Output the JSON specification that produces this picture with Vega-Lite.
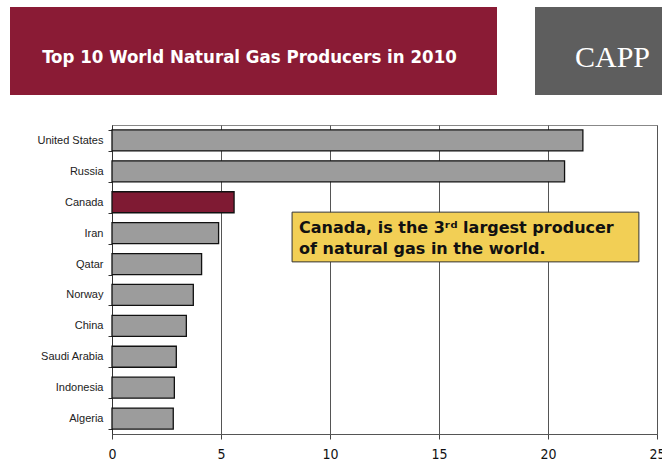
{
  "$schema": "https://vega.github.io/schema/vega-lite/v6.json",
  "padding": {"left": 10, "top": 7, "right": 0, "bottom": 0},
  "background": "white",
  "config": {"view": {"stroke": null}, "font": "Liberation Sans"},
  "spacing": 23,
  "vconcat": [
    {
      "hconcat": [
        {
          "width": 487,
          "height": 88,
          "view": {"fill": "#8a1b35", "stroke": null},
          "data": {"values": [{"t": "Top 10 World Natural Gas Producers in 2010"}]},
          "mark": {"type": "text", "color": "white", "font": "DejaVu Sans Condensed", "fontWeight": "bold", "fontSize": 18.5, "align": "center", "baseline": "middle", "dx": -4, "dy": 6},
          "encoding": {"text": {"field": "t"}}
        },
        {
          "width": 127,
          "height": 88,
          "view": {"fill": "#5e5e5e", "stroke": null},
          "data": {"values": [{"t": "CAPP"}]},
          "mark": {"type": "text", "color": "white", "font": "Liberation Serif", "fontSize": 30, "align": "center", "baseline": "middle", "dx": 14, "dy": 7},
          "encoding": {"text": {"field": "t"}}
        }
      ],
      "spacing": 38
    },
    {
      "bounds": "flush",
      "spacing": 101,
      "hconcat": [
        {
          "width": 1,
          "height": 309,
          "data": {"values": []},
          "mark": {"type": "point", "opacity": 0},
          "encoding": {}
        },
        {
          "width": 545,
          "height": 309,
          "view": {"stroke": "#888888", "strokeWidth": 1},
          "data": {"values": [
            {"country": "United States", "value": 21.6},
            {"country": "Russia", "value": 20.76},
            {"country": "Canada", "value": 5.6},
            {"country": "Iran", "value": 4.89},
            {"country": "Qatar", "value": 4.11},
            {"country": "Norway", "value": 3.73},
            {"country": "China", "value": 3.41},
            {"country": "Saudi Arabia", "value": 2.95},
            {"country": "Indonesia", "value": 2.86},
            {"country": "Algeria", "value": 2.81}
          ]},
          "layer": [
            {
              "mark": {"type": "bar", "stroke": "#111111", "strokeWidth": 1.3},
              "encoding": {
                "y": {
                  "field": "country", "type": "nominal", "sort": null,
                  "scale": {"paddingInner": 0.32, "paddingOuter": 0.16},
                  "axis": {"title": null, "tickBand": "extent", "tickSize": 4, "tickColor": "#333", "domainColor": "#333", "labelPadding": 5, "labelFont": "Liberation Sans", "labelFontSize": 11, "labelColor": "#222", "grid": false}
                },
                "x": {
                  "field": "value", "type": "quantitative",
                  "scale": {"domain": [0, 25], "nice": false},
                  "axis": {"title": null, "values": [0, 5, 10, 15, 20, 25], "grid": true, "gridColor": "#555555", "gridOpacity": 1, "gridWidth": 1, "tickSize": 5, "tickColor": "#444", "domainColor": "#555", "labelFont": "DejaVu Sans Condensed", "labelFontSize": 14, "labelColor": "#111", "labelPadding": 8, "labelBaseline": "top", "labelFlush": false, "labelOverlap": false}
                },
                "color": {"condition": {"test": "datum.country === 'Canada'", "value": "#7f1a33"}, "value": "#9c9c9c"}
              }
            },
            {
              "data": {"values": [{}]},
              "mark": {"type": "rect", "fill": "#f2cf55", "stroke": "#333333", "strokeWidth": 1},
              "encoding": {
                "x": {"datum": 8.26, "type": "quantitative"},
                "x2": {"datum": 24.17},
                "y": {"datum": 2.82, "type": "quantitative", "scale": {"domain": [0, 10], "reverse": true, "nice": false, "zero": false}, "axis": null},
                "y2": {"datum": 4.43}
              }
            },
            {
              "data": {"values": [{"t": ["Canada, is the 3ʳᵈ largest producer", "of natural gas in the world."]}]},
              "mark": {"type": "text", "font": "DejaVu Sans", "fontWeight": "bold", "fontSize": 16, "align": "left", "baseline": "alphabetic", "lineHeight": 21, "color": "#111"},
              "encoding": {
                "text": {"field": "t"},
                "x": {"datum": 8.58, "type": "quantitative"},
                "y": {"datum": 3.5, "type": "quantitative", "scale": {"domain": [0, 10], "reverse": true, "nice": false, "zero": false}, "axis": null}
              }
            }
          ],
          "resolve": {"scale": {"y": "independent"}}
        }
      ]
    }
  ]
}
